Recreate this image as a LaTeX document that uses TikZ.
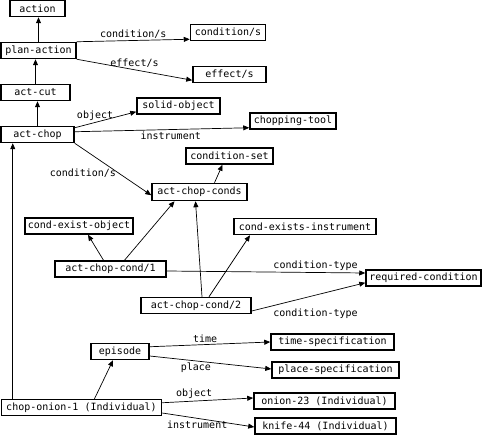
\documentclass[tikz,border=0pt]{standalone}
\usepackage{fontspec}
\setmonofont{DejaVu Sans Mono}
\usetikzlibrary{arrows.meta}

\begin{document}
\begin{tikzpicture}[x=1pt,y=-1pt,
 frame/.style={draw,line width=1.5pt,font=\ttfamily\fontsize{10}{12}\selectfont,
 inner sep=0pt,minimum height=16pt},
 link/.style={-{Triangle[length=6pt,width=5pt]},line width=0.7pt},
 lbl/.style={font=\ttfamily\fontsize{10}{12}\selectfont,inner sep=2pt}]
\useasboundingbox (0,0) rectangle (483,436);
\node[frame,minimum width=55pt] (action) at (37.5,8.5) {action};
\node[frame,minimum width=75pt] (plan) at (38.5,50.5) {plan-action};
\node[frame,minimum width=69pt] (cut) at (35.5,92.5) {act-cut};
\node[frame,minimum width=73pt] (chop) at (37.5,134.5) {act-chop};
\node[frame,minimum width=75pt] (conds) at (228,32.5) {condition/s};
\node[frame,minimum width=73pt] (effs) at (229.5,74.5) {effect/s};
\node[frame,minimum width=83pt] (solid) at (178.5,106) {solid-object};
\node[frame,minimum width=86pt] (tool) at (293,121) {chopping-tool};
\node[frame,minimum width=87pt] (cset) at (229.5,156) {condition-set};
\node[frame,minimum width=95pt,minimum height=17pt] (acc) at (199.5,192) {act-chop-conds};
\node[frame,minimum width=108pt] (cexobj) at (79,226) {cond-exist-object};
\node[frame,minimum width=142pt] (cexins) at (305,226.5) {cond-exists-instrument};
\node[frame,minimum width=111pt] (cond1) at (110.5,269) {act-chop-cond/1};
\node[frame,minimum width=110pt] (cond2) at (196,305.5) {act-chop-cond/2};
\node[frame,minimum width=115pt] (reqc) at (423.5,278) {required-condition};
\node[frame,minimum width=58pt] (episode) at (120,351.5) {episode};
\node[frame,minimum width=160pt] (chopon) at (81.5,407.5) {chop-onion-1 (Individual)};
\node[frame,minimum width=123pt] (timesp) at (332.5,342) {time-specification};
\node[frame,minimum width=127pt] (placesp) at (335.5,370) {place-specification};
\node[frame,minimum width=141pt] (onion) at (324.5,401) {onion-23 (Individual)};
\node[frame,minimum width=141pt] (knife) at (325.5,426) {knife-44 (Individual)};
\draw[link] (plan.north) -- (plan.north |- action.south);
\draw[link] (cut.north) -- (cut.north |- plan.south);
\draw[link] (chop.north) -- (chop.north |- cut.south);
\draw[link] ([xshift=12pt]chopon.north west) -- ([xshift=12pt]chopon.north west |- chop.south);
\draw[link] (plan.north east) -- node[lbl,above]{condition/s} ([yshift=2pt]conds.south west);
\draw[link] (plan.south east) -- node[lbl,above]{effect/s} ([yshift=3pt]effs.south west);
\draw[link] ([yshift=-2pt]chop.north east) -- node[lbl,above,pos=0.33]{object} ([yshift=3pt]solid.south west);
\draw[link] ([yshift=-6pt]chop.north east) -- node[lbl,below,pos=0.55]{instrument} ([yshift=2pt]tool.south west);
\draw[link] (chop.south east) -- node[lbl,left,pos=0.57]{condition/s} ([yshift=6pt]acc.south west);
\draw[link] ([xshift=15pt]acc.north) -- ([xshift=-7pt]cset.south);
\draw[link] ([xshift=-7pt]cond1.north) -- ([xshift=9pt]cexobj.south);
\draw[link] ([xshift=14pt]cond1.north) -- ([xshift=-25pt]acc.south);
\draw[link] ([xshift=6pt]cond2.north) -- ([xshift=-4pt]acc.south);
\draw[link] ([xshift=13pt]cond2.north) -- ([xshift=-55pt]cexins.south);
\draw[link] ([yshift=-2pt]cond1.east) -- node[lbl,above,pos=0.75]{condition-type} ([yshift=5pt]reqc.west);
\draw[link] ([yshift=-5.5pt]cond2.east) -- node[lbl,below right,pos=0.17]{condition-type} ([yshift=4pt]reqc.south west);
\draw[link] ([xshift=13pt]chopon.north) -- ([xshift=-7pt]episode.south);
\draw[link] ([yshift=-4pt]episode.north east) -- node[lbl,above,pos=0.46]{time} (timesp.west);
\draw[link] ([yshift=-4.5pt]episode.east) -- node[lbl,below,pos=0.38]{place} ([yshift=1pt]placesp.west);
\draw[link] ([yshift=-4pt]chopon.north east) -- node[lbl,above,pos=0.35]{object} ([yshift=3pt]onion.west);
\draw[link] ([yshift=-5.5pt]chopon.east) -- node[lbl,below,pos=0.38]{instrument} ([yshift=-1pt]knife.west);
\end{tikzpicture}
\end{document}
